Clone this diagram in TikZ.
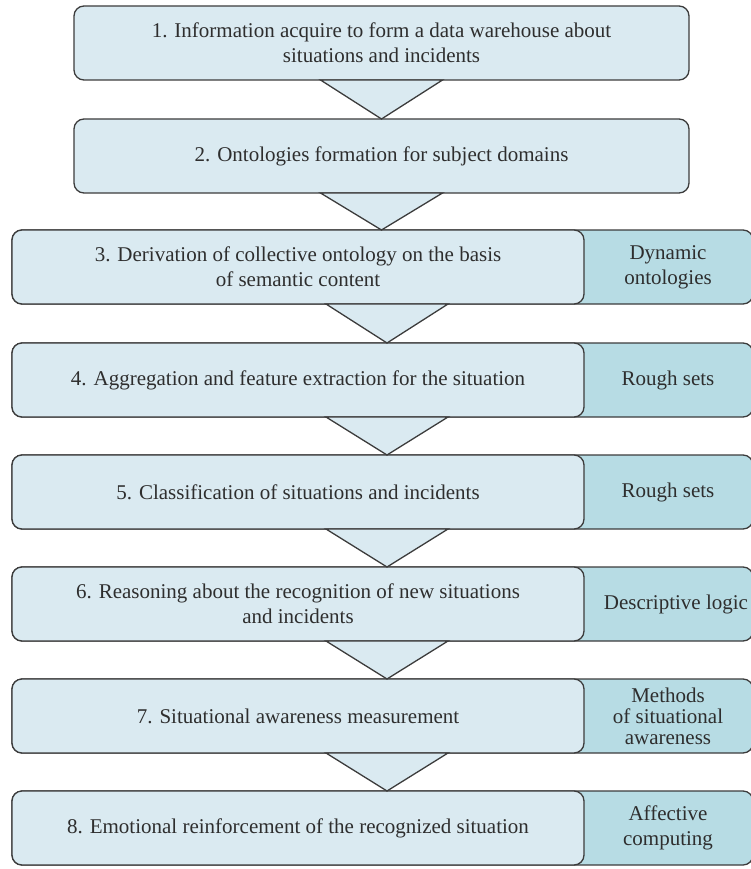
\documentclass[tikz,border=0pt]{standalone}
\usepackage{fontspec}
\setmainfont{Liberation Serif}
\newfontfamily\timesfam{Liberation Serif}
\usetikzlibrary{calc}
\definecolor{lightfill}{HTML}{DAEAF1}
\definecolor{darkfill}{HTML}{B7DCE4}
\definecolor{edge}{HTML}{3C3C3C}
\definecolor{ink}{HTML}{2E2E2E}
\tikzset{
  stepbox/.style={draw=edge, line width=1.3pt, fill=lightfill, rounded corners=10pt,
    minimum height=74pt, inner sep=0pt, outer sep=0pt, anchor=north west, align=center,
    text=ink, font=\timesfam\fontsize{21}{25}\selectfont},
  outerbox/.style={draw=edge, line width=1.3pt, fill=darkfill, rounded corners=10pt,
    minimum height=74pt, minimum width=741pt, inner sep=0pt, outer sep=0pt, anchor=north west},
  sidetext/.style={align=center, text=ink, inner sep=0pt, font=\timesfam\fontsize{21}{25}\selectfont},
  tri/.style={draw=edge, line width=1.3pt, fill=lightfill, line join=miter},
}
\begin{document}
\begin{tikzpicture}[x=1pt,y=-1pt]
\useasboundingbox (0,0) rectangle (750,869);
% top two boxes
\node[stepbox, minimum width=615pt] (s1) at (74,6) {1. Information acquire to form a data warehouse about\\situations and incidents};
\node[stepbox, minimum width=615pt] (s2) at (74,119) {2. Ontologies formation for subject domains};
% boxes with side panels
\node[outerbox] (o3) at (12,230) {};
\node[stepbox, minimum width=572pt] (s3) at (12,230) {3. Derivation of collective ontology on the basis\\of semantic content};
\node[outerbox] (o4) at (12,343) {};
\node[stepbox, minimum width=572pt] (s4) at (12,343) {4. Aggregation and feature extraction for the situation};
\node[outerbox] (o5) at (12,455) {};
\node[stepbox, minimum width=572pt] (s5) at (12,455) {5. Classification of situations and incidents};
\node[outerbox] (o6) at (12,567) {};
\node[stepbox, minimum width=572pt] (s6) at (12,567) {6. Reasoning about the recognition of new situations\\and incidents};
\node[outerbox] (o7) at (12,679) {};
\node[stepbox, minimum width=572pt] (s7) at (12,679) {7. Situational awareness measurement};
\node[outerbox] (o8) at (12,791) {};
\node[stepbox, minimum width=572pt] (s8) at (12,791) {8. Emotional reinforcement of the recognized situation};
% side texts
\node[sidetext] (r3) at (668,267) {Dynamic\\ontologies};
\node[sidetext] (r4) at (668,380) {Rough sets};
\node[sidetext] (r5) at (668,492) {Rough sets};
\node[sidetext] (r6) at (676,604) {Descriptive logic};
\node[sidetext, font=\timesfam\fontsize{21}{21}\selectfont] (r7) at (668,716) {Methods\\of situational\\awareness};
\node[sidetext] (r8) at (668,828) {Affective\\computing};
% triangles
\coordinate (t2) at (s2.south |- o3.north);
\draw[tri] ([xshift=-61pt]s1.south) -- ([xshift=61pt]s1.south) -- (s2.north) -- cycle;
\draw[tri] ([xshift=-61pt]s2.south) -- ([xshift=61pt]s2.south) -- (t2) -- cycle;
\foreach \a/\b in {3/4,4/5,5/6,6/7,7/8}{
  \draw[tri] ([xshift=28pt]s\a.south) -- ([xshift=150pt]s\a.south) -- ([xshift=89pt]s\b.north) -- cycle;
}
\end{tikzpicture}
\end{document}
